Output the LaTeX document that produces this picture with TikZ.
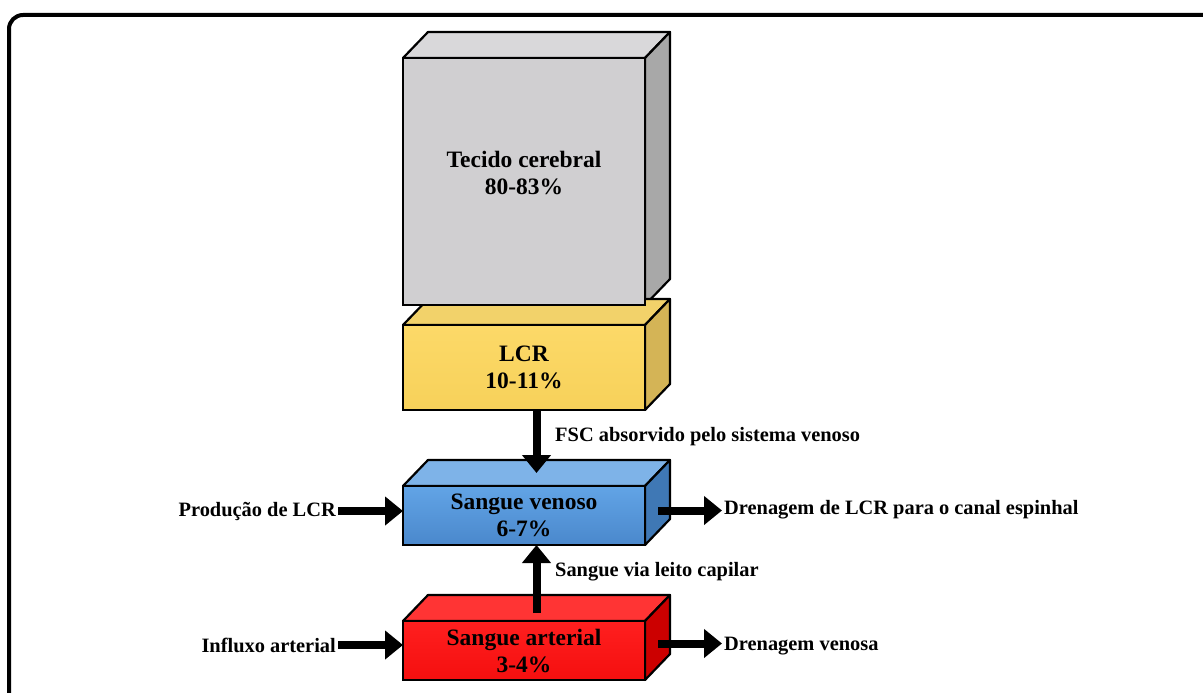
\documentclass[tikz,border=0pt]{standalone}
\usepackage{fontspec}
\setmainfont{Liberation Serif}
\usetikzlibrary{positioning,arrows.meta,backgrounds}
\definecolor{grayFront}{HTML}{D0CFD1}
\definecolor{grayTop}{HTML}{D9D8DA}
\definecolor{graySide}{HTML}{A8A8A8}
\definecolor{yelFront}{HTML}{FCD968}
\definecolor{yelFrontB}{HTML}{F7D15A}
\definecolor{yelTop}{HTML}{F2D26A}
\definecolor{yelSide}{HTML}{D4B456}
\definecolor{bluFront}{HTML}{62A4E6}
\definecolor{bluFrontB}{HTML}{4A88CC}
\definecolor{bluTop}{HTML}{7EB3E8}
\definecolor{bluSide}{HTML}{3F78B5}
\definecolor{redFront}{HTML}{FF1F1F}
\definecolor{redFrontB}{HTML}{F50F0F}
\definecolor{redTop}{HTML}{FF3434}
\definecolor{redSide}{HTML}{CC0000}

\begin{document}
\begin{tikzpicture}[x=1pt,y=-1pt,
    front/.style={draw=black, line width=2.2pt, minimum width=242pt, outer sep=0pt,
      inner sep=0pt, align=center, font=\fontsize{23.5}{27}\selectfont\bfseries},
    face/.style={draw=black, line width=2.2pt, line join=round},
    lbl/.style={font=\fontsize{20.4}{24}\selectfont\bfseries, inner sep=2pt},
    flow/.style={line width=8pt, -{Triangle[width=28pt,length=18pt]}}]
  % page and frame
  \useasboundingbox (0,0) rectangle (1203,693);
  \clip (0,0) rectangle (1203,693);
  \draw[line width=4pt, rounded corners=14pt] (9,15) rectangle (1240,730);
  % compartments
  \node[front, minimum height=247pt, fill=grayFront] (tecido) at (524,181.5)
      {Tecido cerebral\\80-83\%\\[-9pt]\mbox{}};
  \node[front, minimum height=85pt, top color=yelFront, bottom color=yelFrontB,
      below=20pt of tecido] (lcr) {LCR\\10-11\%};
  \node[front, minimum height=59pt, top color=bluFront, bottom color=bluFrontB,
      below=76pt of lcr] (venoso) {Sangue venoso\\6-7\%};
  \node[front, minimum height=59pt, top color=redFront, bottom color=redFrontB,
      below=76pt of venoso] (arterial) {Sangue arterial\\3-4\%};
  % top and side faces
  \begin{scope}[on background layer]
    \foreach \b/\t/\s in {tecido/grayTop/graySide, lcr/yelTop/yelSide,
        venoso/bluTop/bluSide, arterial/redTop/redSide} {
      \draw[face, fill=\t] (\b.north west) -- ++(25,-26)
          -- ([shift={(25,-26)}]\b.north east) -- (\b.north east) -- cycle;
      \draw[face, fill=\s] (\b.north east) -- ++(25,-26)
          -- ([shift={(25,-26)}]\b.south east) -- (\b.south east) -- cycle;
    }
  \end{scope}
  % labels
  \node[lbl, anchor=west] (fsc) at (553,437) {FSC absorvido pelo sistema venoso};
  \node[lbl, anchor=west] (capilar) at (553,572) {Sangue via leito capilar};
  \node[lbl, anchor=east] (producao) at (338,511) {Produção de LCR};
  \node[lbl, anchor=west] (drenLCR) at (722,510) {Drenagem de LCR para o canal espinhal};
  \node[lbl, anchor=east] (influxo) at (338,645) {Influxo arterial};
  \node[lbl, anchor=west] (drenVen) at (722,646) {Drenagem venosa};
  % flows
  \coordinate (venTop) at ([shift={(12.5,-13)}]venoso.north);
  \coordinate (artTop) at ([shift={(12.5,-8)}]arterial.north);
  \coordinate (venSide) at ([shift={(13,-5)}]venoso.east);
  \coordinate (artSide) at ([shift={(13,-7)}]arterial.east);
  \draw[flow] (lcr.south -| venTop) -- (venTop);
  \draw[flow] (artTop) -- (artTop |- venoso.south);
  \draw[flow] (producao.east) -- (producao.east -| venoso.west);
  \draw[flow] (influxo.east) -- (influxo.east -| arterial.west);
  \draw[flow] (venSide) -- (venSide -| drenLCR.west);
  \draw[flow] (artSide) -- (artSide -| drenVen.west);
\end{tikzpicture}
\end{document}
